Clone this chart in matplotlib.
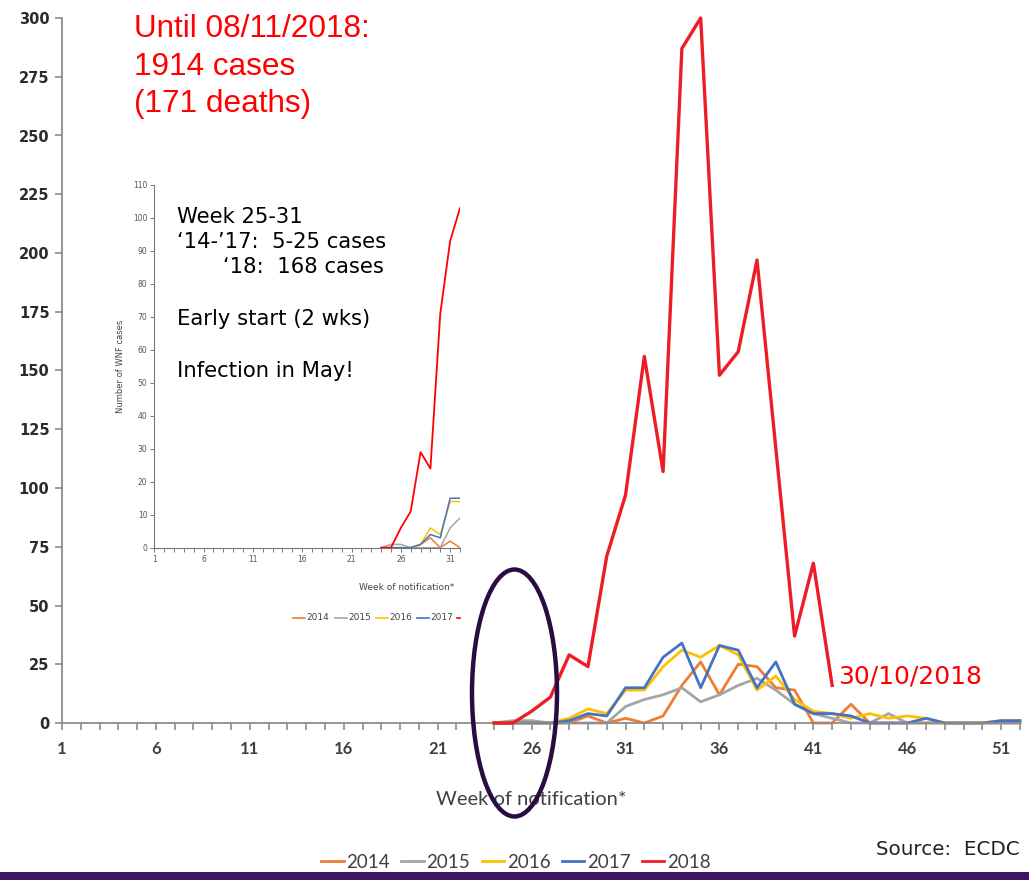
#!/usr/bin/env python3
"""West Nile fever cases per week of notification, 2014-2018, with an inset of the early season."""
import matplotlib.pyplot as plt
from matplotlib.patches import Ellipse, Rectangle
from matplotlib.lines import Line2D

W, H = 1029, 880

# --- main chart data (week of notification -> cases) ---
weeks = list(range(24, 53))
cases_2014 = [0, 0, 0, 0, 0, 3, 0, 2, 0, 3, 16, 26, 12, 25, 24, 15, 14, 0, 0, 8,
              0, 0, 0, 0, 0, 0, 0, 0, 0]
cases_2015 = [0, 1, 1, 0, 0, 0, 0, 7, 10, 12, 15, 9, 12, 16, 19, 14, 8, 4, 2, 0,
              0, 4, 0, 0, 0, 0, 0, 0, 0]
cases_2016 = [0, 0, 0, 0, 2, 6, 4, 14, 14, 24, 31, 28, 33, 29, 14, 20, 10, 5, 4, 2,
              4, 2, 3, 2, 0, 0, 0, 1, 1]
cases_2017 = [0, 0, 0, 0, 1, 4, 3, 15, 15, 28, 34, 15, 33, 31, 15, 26, 8, 4, 4, 3,
              0, 0, 0, 2, 0, 0, 0, 1, 1]
weeks_2018 = list(range(24, 43))
cases_2018 = [0, 0, 5, 11, 29, 24, 71, 97, 156, 107, 287, 300, 148, 158, 197, 117,
              37, 68, 16]

# --- inset: earlier report, weeks 24-32 ---
inset_weeks = list(range(24, 33))
inset_2014 = [0, 0, 0, 0, 1, 3, 0, 2, 0]
inset_2015 = [0, 1, 1, 0, 0, 0, 0, 6, 9]
inset_2016 = [0, 0, 0, 0, 1, 6, 4, 14, 14]
inset_2017 = [0, 0, 0, 0, 1, 4, 3, 15, 15]
inset_2018 = [0, 0, 6, 11, 29, 24, 71, 93, 103]

years = ["2014", "2015", "2016", "2017", "2018"]
colors = ["#ed7d31", "#a5a5a5", "#ffc000", "#4472c4", "#ee1c25"]

AXIS_GREY = "#8c8c8c"


def px(x, y):
    """pixel position (from top-left) -> figure fraction"""
    return x / W, 1 - y / H


fig = plt.figure(figsize=(W / 100, H / 100), dpi=100)

# ---------------- main axes ----------------
ax = fig.add_axes([62 / W, 157 / H, 958 / W, 705 / H])
series = [cases_2014, cases_2015, cases_2016, cases_2017]
for yr, vals, c in zip(years[:4], series, colors[:4]):
    ax.plot(weeks, vals, color=c, lw=2.0, label=yr, clip_on=False, zorder=2)
ax.plot(weeks_2018, cases_2018, color=colors[4], lw=2.4, label="2018",
        clip_on=False, zorder=3)

ax.set_xlim(1, 52)
ax.set_ylim(0, 300)
for s in ["top", "right"]:
    ax.spines[s].set_visible(False)
for s in ["left", "bottom"]:
    ax.spines[s].set_color(AXIS_GREY)
    ax.spines[s].set_linewidth(1.3)

ax.set_yticks(range(0, 301, 25))
ax.set_xticks(range(1, 52, 5))
ax.set_xticks(range(1, 53), minor=True)
ax.tick_params(axis="y", length=5, width=1.2, color=AXIS_GREY, pad=4,
               labelsize=10.5, labelcolor="#2b2b2b")
ax.tick_params(axis="x", which="both", length=5, width=1.2, color=AXIS_GREY,
               pad=8, labelsize=12, labelcolor="#404040")
for lab in ax.get_yticklabels():
    lab.set_fontfamily("DejaVu Sans")
    lab.set_fontweight("bold")
for lab in ax.get_xticklabels():
    lab.set_fontfamily(["Lato", "DejaVu Sans"])
    lab.set_fontweight("bold")

fig.text(*px(531, 805), "Week of notification*", ha="center", va="baseline",
         fontsize=14.5, color="#404040", family=["Lato", "DejaVu Sans"])

# red summary text
red_kw = dict(ha="left", va="baseline", fontsize=22.7, color="#ff0000",
              family=["Liberation Sans", "DejaVu Sans"])
fig.text(*px(134, 37), "Until 08/11/2018:", **red_kw)
fig.text(*px(134, 75), "1914 cases", **red_kw)
fig.text(*px(134, 112), "(171 deaths)", **red_kw)
fig.text(*px(838, 684), "30/10/2018", ha="left", va="baseline",
         fontsize=18, color="#ff0000", family="DejaVu Sans")

# legend below the chart
fig.legend(handles=[Line2D([], [], color=c, lw=2) for c in colors], labels=years,
           loc="center", bbox_to_anchor=(516 / W, 1 - 862 / H), ncol=5,
           frameon=False, handlelength=1.2, handletextpad=0.15,
           columnspacing=0.6, prop={"family": ["Lato", "DejaVu Sans"], "size": 13.5},
           labelcolor="#404040")

fig.text(*px(1020, 855), "Source:  ECDC", ha="right", va="baseline",
         fontsize=14.3, color="#222222", family="DejaVu Sans")

# ---------------- inset axes ----------------
ia = fig.add_axes([154.3 / W, (H - 547.7) / H, (460 - 154.3) / W, 362.7 / H])
ia.patch.set_alpha(0)
inset_series = [inset_2014, inset_2015, inset_2016, inset_2017]
for vals, c in zip(inset_series, colors[:4]):
    ia.plot(inset_weeks, vals, color=c, lw=1.1)
ia.plot(inset_weeks, inset_2018, color="#ff0000", lw=1.3)
ia.set_xlim(1, 32)
ia.set_ylim(0, 110)
for s in ["top", "right"]:
    ia.spines[s].set_visible(False)
for s in ["left", "bottom"]:
    ia.spines[s].set_color("#777777")
    ia.spines[s].set_linewidth(0.8)
ia.set_yticks(range(0, 111, 10))
ia.set_xticks(range(1, 32, 5))
ia.set_xticks(range(1, 33), minor=True)
ia.tick_params(axis="both", which="both", length=3, width=0.7, color="#777777",
               labelsize=5.5, labelcolor="#555555", pad=2)
ia.set_ylabel("Number of WNF cases", fontsize=6, color="#444444", labelpad=6)

fig.text(*px(454, 590), "Week of notification*", ha="right", va="baseline",
         fontsize=6.5, color="#444444")

# inset legend, cut off at the right edge
inset_leg = [(293, "2014"), (335, "2015"), (376, "2016"), (417, "2017")]
for (x0, yr), c in zip(inset_leg, colors[:4]):
    fig.add_artist(Line2D([x0 / W, (x0 + 12) / W], [1 - 618 / H] * 2,
                          color=c, lw=1.2, transform=fig.transFigure))
    fig.text((x0 + 13) / W, 1 - 618 / H, yr, ha="left", va="center",
             fontsize=6.5, color="#444444")
fig.add_artist(Line2D([457 / W, 460 / W], [1 - 618 / H] * 2, color="#ff0000",
                      lw=1.2, transform=fig.transFigure))

# inset notes
note_kw = dict(ha="left", va="baseline", fontsize=15.2, color="black",
               family="DejaVu Sans")
fig.text(*px(177, 223), "Week 25-31", **note_kw)
fig.text(*px(177, 248), "\u201814-\u201917:  5-25 cases", **note_kw)
fig.text(*px(223, 273), "\u201818:  168 cases", **note_kw)
fig.text(*px(177, 325), "Early start (2 wks)", **note_kw)
fig.text(*px(177, 377), "Infection in May!", **note_kw)

# highlight around the season start
fig.add_artist(Ellipse(((514.5) / W, 1 - 693 / H), 85 / W, 247 / H,
                       transform=fig.transFigure, fill=False,
                       edgecolor="#2a0c42", lw=3.2, zorder=10))

# footer bar
fig.add_artist(Rectangle((0, 0), 1, 8 / H, transform=fig.transFigure,
                         facecolor="#3e1560", edgecolor="none"))

fig.savefig("out.png", dpi=100)
